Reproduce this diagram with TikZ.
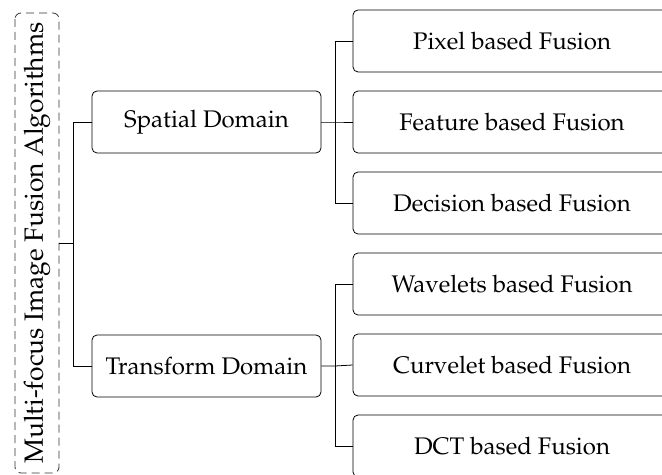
\documentclass[tikz,border=0pt]{standalone}
\usepackage[T1]{fontenc}
\usepackage{mathpazo}
\begin{document}
\begin{tikzpicture}[x=0.5pt, y=-0.5pt,
  every node/.style={font=\fontsize{12}{14}\selectfont},
  branch/.style={draw, rounded corners=2.5pt, minimum width=114.5pt, minimum height=31pt, inner sep=0pt},
  leaf/.style={draw, rounded corners=2.5pt, minimum width=159pt, minimum height=31pt, inner sep=0pt},
  rootbox/.style={draw=black!80, dashed, dash pattern=on 4pt off 2.5pt, rounded corners=3pt, rotate=90,
    minimum width=230pt, minimum height=22pt, inner sep=0pt, font=\fontsize{13.2}{15}\selectfont}]
  \useasboundingbox (0, 0) rectangle (662, 475);
  % koordinate
  \coordinate (J0) at (73, 243);
  \coordinate (J1) at (335, 122);
  \coordinate (J2) at (335, 366);
  % vozlisca
  \node [rootbox] (root) at (37, 243) {Multi-focus Image Fusion Algorithms};
  \node [branch] (spatial) at (206.5, 122) {Spatial Domain};
  \node [branch] (transform) at (206.5, 366) {Transform Domain};
  \node [leaf] (pixel) at (512, 41) {Pixel based Fusion};
  \node [leaf] (feature) at (512, 122) {Feature based Fusion};
  \node [leaf] (decision) at (512, 203) {Decision based Fusion};
  \node [leaf] (wavelet) at (512, 284) {Wavelets based Fusion};
  \node [leaf] (curvelet) at (512, 365) {Curvelet based Fusion};
  \node [leaf] (dct) at (512, 446) {DCT based Fusion};
  % črte
  \draw (root.south) -- (J0);
  \draw (J0) |- (spatial.west);
  \draw (J0) |- (transform.west);
  \draw (spatial.east) -- (J1) -- (feature.west);
  \draw (J1) |- (pixel.west);
  \draw (J1) |- (decision.west);
  \draw (transform.east) -- (J2) -- (curvelet.west);
  \draw (J2) |- (wavelet.west);
  \draw (J2) |- (dct.west);
\end{tikzpicture}
\end{document}
